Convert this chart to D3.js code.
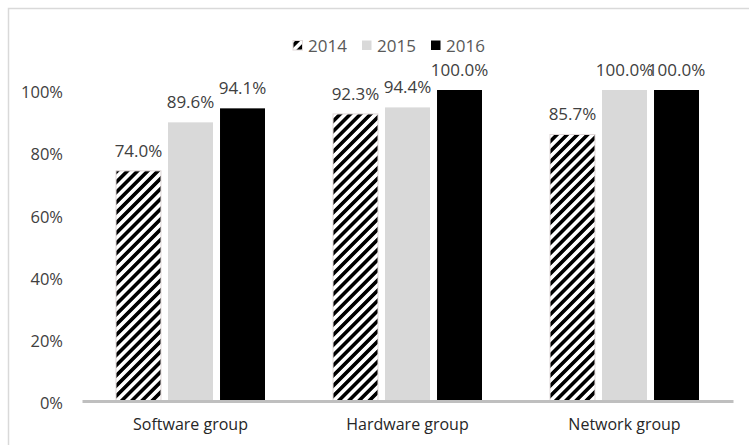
<!DOCTYPE html>
<html><head><meta charset="utf-8">
<script src="https://cdn.jsdelivr.net/npm/d3@7"></script>
<style>body{margin:0;background:#fff}svg{display:block}text{font-family:"Open Sans",sans-serif}</style>
</head><body>
<svg id="c" width="749" height="445"></svg>
<script>
const categories = ["Software group","Hardware group","Network group"];
const years = ["2014","2015","2016"];
const v2014 = [74.0, 92.3, 85.7];
const v2015 = [89.6, 94.4, 100.0];
const v2016 = [94.1, 100.0, 100.0];
const yTicks = [0,20,40,60,80,100];
const series = [v2014, v2015, v2016];

const svg = d3.select("#c");
const defs = svg.append("defs");
const pat = defs.append("pattern").attr("id","hatch").attr("patternUnits","userSpaceOnUse")
  .attr("width",7.2).attr("height",7.2).attr("patternTransform","rotate(45)");
pat.append("rect").attr("width",7.2).attr("height",7.2).attr("fill","#fff");
pat.append("rect").attr("width",3.6).attr("height",7.2).attr("fill","#000");

const fills = ["url(#hatch)","#d9d9d9","#000000"];

// chart border
svg.append("rect").attr("x",8.5).attr("y",8.5).attr("width",800).attr("height",500)
  .attr("fill","none").attr("stroke","#d9d9d9").attr("stroke-width",1.5);

const x0 = d3.scaleBand().domain(categories).range([82,733]);
const x1 = d3.scaleBand().domain(years).range([34,183]).paddingInner(0.135);
const y = d3.scaleLinear().domain([0,100]).range([401,90]);

// y tick labels
const yAxis = d3.axisLeft(y).tickValues(yTicks).tickFormat(d=>d+"%").tickSize(0).tickPadding(0);
const gy = svg.append("g").attr("transform","translate(63,2)").call(yAxis);
gy.select(".domain").remove();
gy.selectAll("text").attr("font-family","Open Sans").attr("font-size",16.5).attr("fill","#404040").attr("dy","0.35em");

// bars
categories.forEach((c,i)=>{
  const g = svg.append("g").attr("transform",`translate(${x0(c)},0)`);
  years.forEach((yr,j)=>{
    const val = series[j][i];
    g.append("rect").attr("x",x1(yr)).attr("y",y(val)).attr("width",x1.bandwidth())
      .attr("height",y(0)-y(val)).attr("fill",fills[j])
      .attr("stroke", j===0 ? "#e0d8d8" : "none").attr("stroke-width",1);
    g.append("text").attr("x",x1(yr)+x1.bandwidth()/2).attr("y",y(val)-14)
      .attr("text-anchor","middle").attr("font-size",17).attr("fill","#404040")
      .text(val.toFixed(1)+"%");
  });
});

// x axis
const xAxis = d3.axisBottom(x0).tickSize(0).tickPadding(18);
const gx = svg.append("g").attr("transform","translate(0,401)").call(xAxis);
gx.select(".domain").attr("stroke","#bfbfbf").attr("stroke-width",3);
gx.selectAll("text").attr("font-family","Open Sans").attr("font-size",16).attr("fill","#262626");

// legend
const lx = [293, 362, 431];
years.forEach((yr,j)=>{
  svg.append("rect").attr("x",lx[j]).attr("y",40.5).attr("width",9.5).attr("height",9.5)
    .attr("fill",fills[j]).attr("stroke", j===0?"#e0d8d8":"none");
  svg.append("text").attr("x",lx[j]+15).attr("y",52).attr("font-size",17)
    .attr("fill","#595959").text(yr);
});
</script>
</body></html>
